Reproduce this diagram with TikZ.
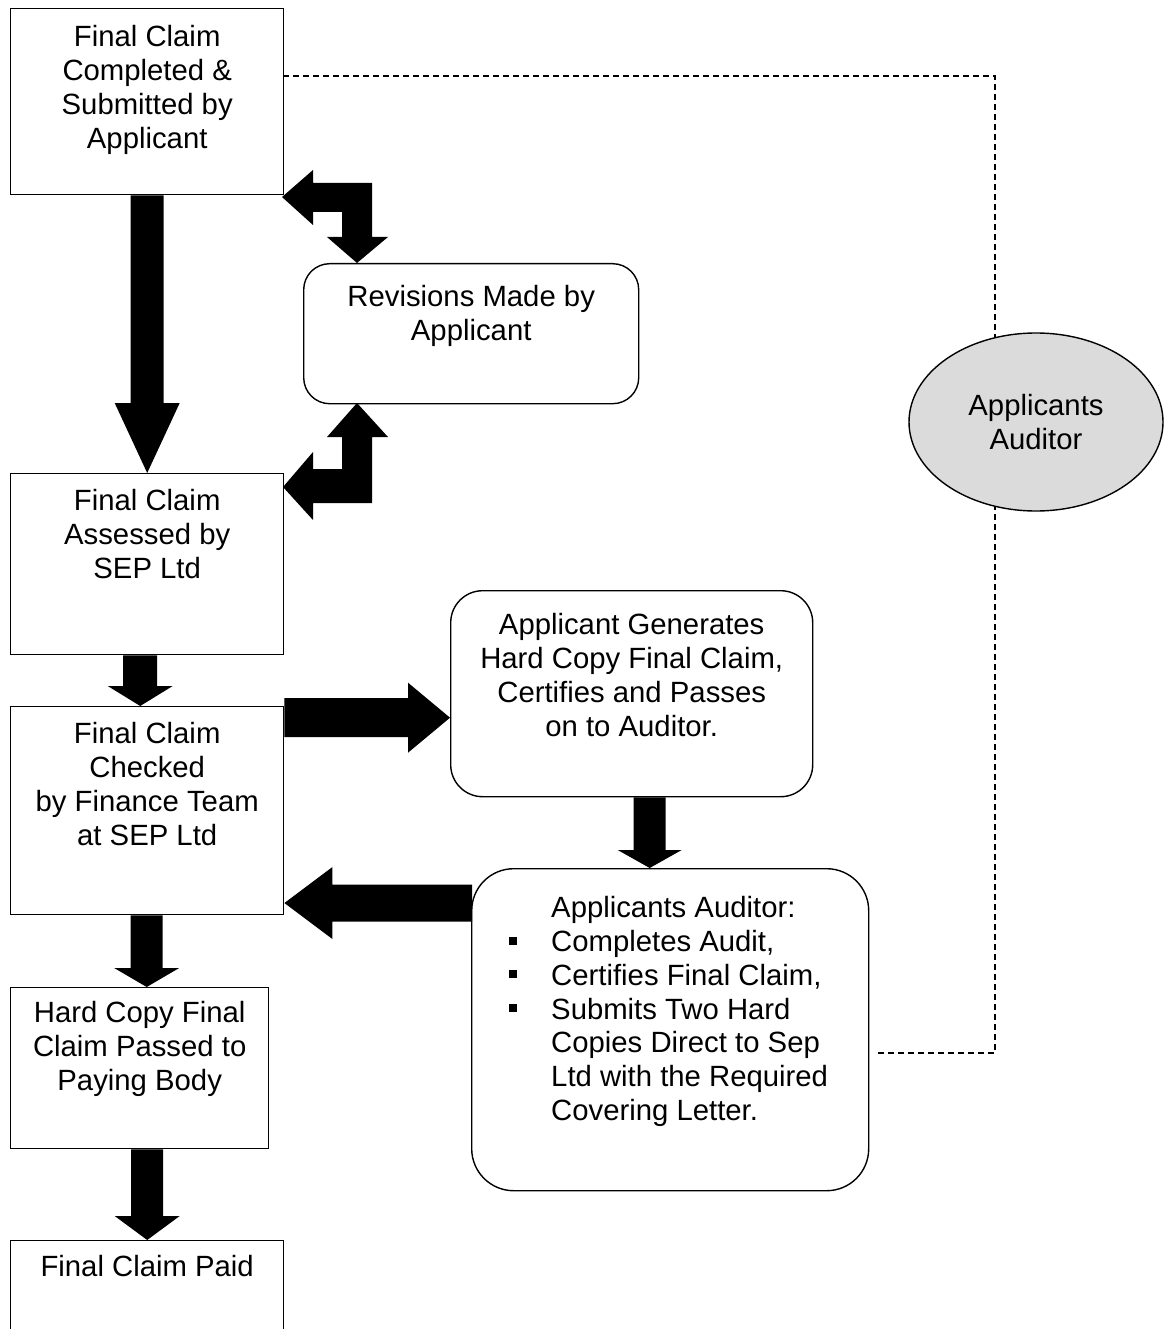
\documentclass[tikz,border=0pt]{standalone}
\usepackage{fontspec}
\setmainfont{Liberation Sans}
\usetikzlibrary{calc,shapes.geometric}
\tikzset{
  sqbox/.style={draw=black, line width=1.4pt, fill=white, inner sep=0pt, anchor=north west},
  rbox/.style={sqbox, rounded corners=28pt},
  txt/.style={font=\fontsize{29.3}{33.7}\selectfont, align=center, inner sep=0pt, anchor=north},
  blk/.style={fill=black, draw=none},
  dashline/.style={draw=black, line width=1.3pt, dash pattern=on 6pt off 4pt},
}
\newcommand\bullsq{\llap{\makebox[42pt][l]{\rule[7pt]{8pt}{8pt}}}}
\begin{document}
\begin{tikzpicture}[x=1pt,y=-1pt]
\useasboundingbox (0,0) rectangle (1166,1329);
\clip (0,0) rectangle (1166,1329);

% dashed link (drawn first, ellipse covers it)
\coordinate (d1) at (995,76);
\coordinate (d2) at (995,1053);
\coordinate (d3) at (876,1053);
\coordinate (s1) at (283,76);
\draw[dashline] (s1) -- (d1) -- (d2) -- (d3);

% boxes
\node[sqbox, minimum width=273, minimum height=186] (b1) at (10,8) {};
\node[sqbox, minimum width=273, minimum height=181] (b2) at (10,473) {};
\node[sqbox, minimum width=273, minimum height=208] (b3) at (10,706) {};
\node[sqbox, minimum width=258, minimum height=161] (b4) at (10,987) {};
\node[sqbox, minimum width=273, minimum height=120] (b5) at (10,1240) {};
\node[rbox, rounded corners=26pt, minimum width=335, minimum height=140] (rev) at (303,263) {};
\node[rbox, rounded corners=32pt, minimum width=362, minimum height=206] (gen) at (450,590) {};
\node[rbox, rounded corners=42pt, minimum width=397, minimum height=322] (aud) at (471,868) {};
\node[draw=black, line width=1.4pt, fill=black!14, ellipse, minimum width=254, minimum height=178,
      inner sep=0pt, font=\fontsize{29.3}{33.7}\selectfont, align=center] (ell) at (1036,422) {Applicants\\Auditor};

% texts
\node[txt] (t1) at ($(b1.north)+(0,17.5)$) {Final Claim\\Completed \&\\Submitted by\\Applicant};
\node[txt] (t2) at ($(b2.north)+(0,16.5)$) {Final Claim\\Assessed by\\SEP Ltd};
\node[txt] (t3) at ($(b3.north)+(0,16.5)$) {Final Claim\\Checked\\by Finance Team\\at SEP Ltd};
\node[txt] (t4) at ($(b4.north)+(0,14.5)$) {Hard Copy Final\\Claim Passed to\\Paying Body};
\node[txt] (t5) at ($(b5.north)+(0,15.5)$) {Final Claim Paid};
\node[txt] (trev) at ($(rev.north)+(0,22.5)$) {Revisions Made by\\Applicant};
\node[txt] (tgen) at ($(gen.north)+(0,23.5)$) {Applicant Generates\\Hard Copy Final Claim,\\Certifies and Passes\\on to Auditor.};
\node[txt, align=left, anchor=north west] (taud) at ($(aud.north west)+(80,28.5)$)
  {Applicants Auditor:\\\bullsq Completes Audit,\\\bullsq Certifies Final Claim,\\\bullsq Submits Two Hard\\Copies Direct to Sep\\Ltd with the Required\\Covering Letter.};

% straight block arrows
% b1 -> b2
\fill[blk] let \p1=(b1.south), \p2=(b2.north) in
  (\x2-16.5pt,\y1) -- (\x2+16.5pt,\y1) -- (\x2+16.5pt,\y2+70pt) -- (\x2+32.5pt,\y2+70pt) -- (\x2,\y2)
  -- (\x2-32.5pt,\y2+70pt) -- (\x2-16.5pt,\y2+70pt) -- cycle;
% b2 -> b3 (offset left)
\fill[blk] let \p1=(b2.south), \p2=($(b3.north)+(-7,0)$) in
  (\x2-17pt,\y1) -- (\x2+17pt,\y1) -- (\x2+17pt,\y2+20pt) -- (\x2+32.5pt,\y2+20pt) -- (\x2,\y2)
  -- (\x2-32.5pt,\y2+20pt) -- (\x2-17pt,\y2+20pt) -- cycle;
% b3 -> b4
\fill[blk] let \p1=(b3.south), \p2=($(b4.north)+(7,0)$) in
  (\x2-16pt,\y1) -- (\x2+16pt,\y1) -- (\x2+16pt,\y2+19pt) -- (\x2+32.5pt,\y2+19pt) -- (\x2,\y2)
  -- (\x2-32.5pt,\y2+19pt) -- (\x2-16pt,\y2+19pt) -- cycle;
% b4 -> b5
\fill[blk] let \p1=(b4.south), \p2=(b5.north) in
  (\x2-16pt,\y1) -- (\x2+16pt,\y1) -- (\x2+16pt,\y2+24pt) -- (\x2+32.5pt,\y2+24pt) -- (\x2,\y2)
  -- (\x2-32.5pt,\y2+24pt) -- (\x2-16pt,\y2+24pt) -- cycle;
% gen -> aud
\fill[blk] let \p1=(gen.south), \p2=($(aud.north)+(-20.5,0)$) in
  (\x2-16pt,\y1) -- (\x2+16pt,\y1) -- (\x2+16pt,\y2+18pt) -- (\x2+32pt,\y2+18pt) -- (\x2,\y2)
  -- (\x2-32pt,\y2+18pt) -- (\x2-16pt,\y2+18pt) -- cycle;
% b3 -> gen (right)
\fill[blk] let \p1=($(b3.north east)+(0,11)$), \p2=($(gen.west)+(0,24)$) in
  (\x1,\y2+19.5pt) -- (\x2-42pt,\y2+19.5pt) -- (\x2-42pt,\y2+35pt) -- (\x2,\y2)
  -- (\x2-42pt,\y2-35pt) -- (\x2-42pt,\y2-19.5pt) -- (\x1,\y2-19.5pt) -- cycle;
% aud -> b3 (left)
\fill[blk] let \p1=($(aud.north west)+(1,35)$), \p2=($(b3.north east)+(0,197)$) in
  (\x1,\y2+18.5pt) -- (\x2+48pt,\y2+18.5pt) -- (\x2+48pt,\y2+36pt) -- (\x2,\y2)
  -- (\x2+48pt,\y2-36pt) -- (\x2+48pt,\y2-18.5pt) -- (\x1,\y2-18.5pt) -- cycle;

% bent double arrows between b1/b2 and rev
\coordinate (ta) at (282,197);
\coordinate (tb) at (357,263);
\fill[blk] (ta) -- (313,170) -- (313,183) -- (372,183) -- (372,237) -- (388,237) -- (tb)
  -- (327,237) -- (342,237) -- (342,212) -- (313,212) -- (313,225) -- cycle;
\coordinate (ua) at (357,403);
\coordinate (ub) at (283,487);
\fill[blk] (ua) -- (388,437) -- (372,437) -- (372,503) -- (313,503) -- (313,520) -- (ub)
  -- (313,452) -- (313,469) -- (342,469) -- (342,437) -- (327,437) -- cycle;
\end{tikzpicture}
\end{document}
